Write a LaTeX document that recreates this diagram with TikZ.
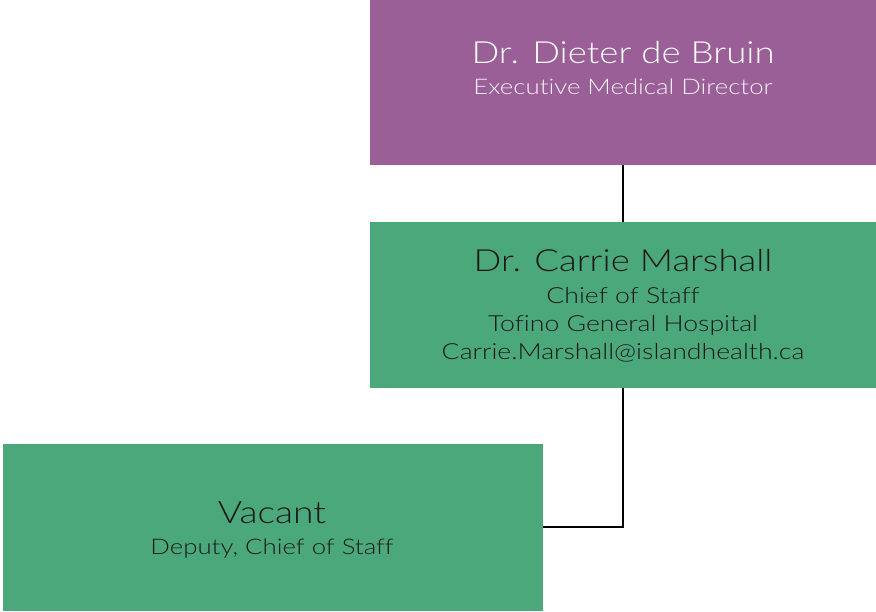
\documentclass[tikz,border=0pt]{standalone}
\usepackage{fontspec}
\setmainfont{Lato}[UprightFont={* Light},FakeStretch=1.2,Ligatures=NoCommon]
\definecolor{purp}{RGB}{155,95,152}
\definecolor{grn}{RGB}{75,168,123}
\begin{document}
\begin{tikzpicture}[x=1pt,y=-1pt,
  lbl/.style={anchor=base,inner sep=0pt},
  conn/.style={draw=black,line width=2.5pt}]
\useasboundingbox (0,0) rectangle (876,611);
\fill[purp] (370,0) rectangle (876,165);
\coordinate (topS) at (623,165);
\fill[grn] (370,222) rectangle (876,387.5);
\coordinate (midN) at (623,222);
\coordinate (midS) at (623,387.5);
\fill[grn] (3,444) rectangle (543,611);
\coordinate (botE) at (543,527);
\node[lbl,text=white,font=\fontsize{30.5}{36}\selectfont] (t1) at (623,63) {Dr. Dieter de Bruin};
\node[lbl,text=white!92!purp,font=\fontsize{21.5}{26}\selectfont] (t2) at (623,94) {Executive Medical Director};
\node[lbl,text=black!90,font=\fontsize{30.5}{36}\selectfont] (m1) at (623,271) {Dr. Carrie Marshall};
\node[lbl,text=black!90,font=\fontsize{22.2}{26}\selectfont] (m2) at (623,303) {Chief of Staff};
\node[lbl,text=black!90,font=\fontsize{22.2}{26}\selectfont] (m3) at (623,331) {Tofino General Hospital};
\node[lbl,text=black!90,font=\fontsize{22.2}{26}\selectfont] (m4) at (623,359) {Carrie.Marshall@islandhealth.ca};
\node[lbl,text=black!90,font=\fontsize{31}{36}\selectfont] (b1) at (272,523) {Vacant};
\node[lbl,text=black!90,font=\fontsize{21.5}{26}\selectfont] (b2) at (272,554) {Deputy, Chief of Staff};
\draw[conn] (topS) -- (midN);
\draw[conn] (midS) |- (botE);
\end{tikzpicture}
\end{document}
